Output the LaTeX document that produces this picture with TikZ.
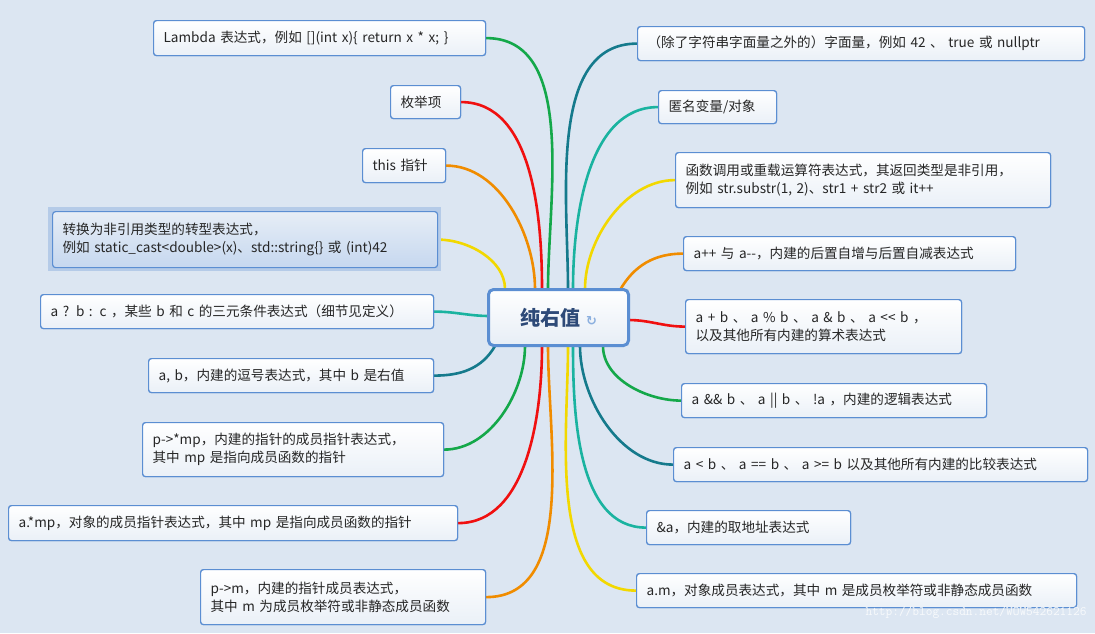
\documentclass[tikz,border=0pt]{standalone}
\usepackage{fontspec}
\setmainfont{Noto Sans CJK SC}
\newfontfamily\symf{DejaVu Sans}
\usetikzlibrary{calc}
\definecolor{bg}{HTML}{DCE6F2}
\definecolor{bord}{HTML}{5B8ED2}
\definecolor{cg}{HTML}{14A84A}
\definecolor{cr}{HTML}{F01010}
\definecolor{co}{HTML}{F08C00}
\definecolor{cy}{HTML}{F2D800}
\definecolor{ct}{HTML}{1AB3A0}
\definecolor{cd}{HTML}{157A8C}
\tikzset{
 box/.style={draw=bord, line width=1.2pt, rounded corners=3pt, top color=white, bottom color=bg!60!white, anchor=north west, inner xsep=10pt, align=left, font=\fontsize{13.6}{18}\selectfont, text=black!85},
 sel/.style={top color=bg!70!white, bottom color=bord!35!white},
 br/.style={line width=2.6pt, line cap=round},
}
\newcommand{\bx}[7][]{\pgfmathsetmacro\ww{#5-#3}\pgfmathsetmacro\hh{#6-#4}%
 \node[box,#1,minimum height=\hh pt,text width=\ww pt-20pt] (#2) at (#3,#4) {#7};}
\newcommand{\allboxes}{%
\bx{l1}{153}{20}{485}{55}{Lambda 表达式，例如 [](int x)\{ return x * x; \}}
\bx{l2}{390}{85}{460}{118}{枚举项}
\bx{l3}{362}{148}{445}{182}{this 指针}
\fill[bord!30!bg] (48,207) rectangle (441,271);
\bx[sel]{l4}{52}{211}{437}{267}{转换为非引用类型的转型表达式，\\例如 static\_cast{<}double{>}(x)、std::string\{\} 或 (int)42}
\bx{l5}{40}{294}{433}{328}{a ? b : c ，某些 b 和 c 的三元条件表达式（细节见定义）}
\bx{l6}{148}{358}{433}{392}{a, b，内建的逗号表达式，其中 b 是右值}
\bx{l7}{142}{422}{443}{476}{p->*mp，内建的指针的成员指针表达式，\\其中 mp 是指向成员函数的指针}
\bx{l8}{8}{505}{457}{540}{a.*mp，对象的成员指针表达式，其中 mp 是指向成员函数的指针}
\bx{l9}{200}{569}{485}{624}{p->m，内建的指针成员表达式，\\其中 m 为成员枚举符或非静态成员函数}
\bx{r1}{637}{26}{1084}{60}{（除了字符串字面量之外的）字面量，例如 42 、 true 或 nullptr}
\bx{r2}{658}{90}{776}{123}{匿名变量/对象}
\bx{r3}{675}{152}{1050}{207}{函数调用或重载运算符表达式，其返回类型是非引用，\\例如 str.substr(1, 2)、str1 + str2 或 it++}
\bx{r4}{683}{236}{1015}{270}{a++ 与 a-{}-，内建的后置自增与后置自减表达式}
\bx{r5}{685}{299}{961}{353}{a + b 、 a \% b 、 a \& b 、 a {<}{<} b ，\\以及其他所有内建的算术表达式}
\bx{r6}{681}{383}{986}{417}{a \&\& b 、 a || b 、 !a ，内建的逻辑表达式}
\bx{r7}{673}{447}{1087}{481}{a {<} b 、 a == b 、 a {>}= b 以及其他所有内建的比较表达式}
\bx{r8}{646}{510}{850}{544}{\&a，内建的取地址表达式}
\bx{r9}{636}{573}{1076}{607}{a.m，对象成员表达式，其中 m 是成员枚举符或非静态成员函数}}
\begin{document}
\begin{tikzpicture}[x=1pt,y=-1pt]
\fill[bg] (0,0) rectangle (1095,633);
\useasboundingbox (0,0) rectangle (1095,633);
\def\lt#1#2#3{\draw[br,#1] (#2,289) to[out=90,in=0,looseness=0.9] (#3.east);}
\def\lb#1#2#3{\draw[br,#1] (#2,346) to[out=-90,in=0,looseness=0.9] (#3.east);}
\def\rt#1#2#3{\draw[br,#1] (#2,289) to[out=90,in=180,looseness=0.9] (#3.west);}
\def\rb#1#2#3{\draw[br,#1] (#2,346) to[out=-90,in=180,looseness=0.9] (#3.west);}
\allboxes
\lt{cg}{548}{l1}\lt{cr}{542}{l2}\lt{co}{535}{l3}\lt{cy}{505}{l4}
\draw[br,ct] (490,316) to[out=180,in=0] (l5.east);
\draw[br,cd] (495,346) to[out=-120,in=0] (l6.east);
\lb{cg}{525}{l7}\lb{cr}{542}{l8}\lb{co}{548}{l9}
\rt{cd}{568}{r1}\rt{ct}{573}{r2}\rt{cy}{585}{r3}
\draw[br,co] (620,290) to[out=60,in=180] (r4.west);
\draw[br,cr] (628,320) to[out=0,in=180] (r5.west);
\rb{cg}{603}{r6}\rb{cd}{580}{r7}\rb{ct}{573}{r8}\rb{cy}{568}{r9}
\allboxes
\node[draw=bord, line width=3pt, rounded corners=5pt, top color=white, bottom color=bg!70!white, minimum width=140pt, minimum height=56pt, font=\fontsize{20}{24}\selectfont\bfseries, text={rgb,255:red,46;green,74;blue,120}] (c) at (558.5,317.5) {纯右值\hspace{6pt}{\symf\fontsize{13}{13}\selectfont\color{bord!70}↻}};
\node[anchor=south east, font=\fontsize{13}{14}\ttfamily, text=white!80!bg] (wm) at (1090,622) {http://blog.csdn.net/WOW542621126};
\end{tikzpicture}
\end{document}
